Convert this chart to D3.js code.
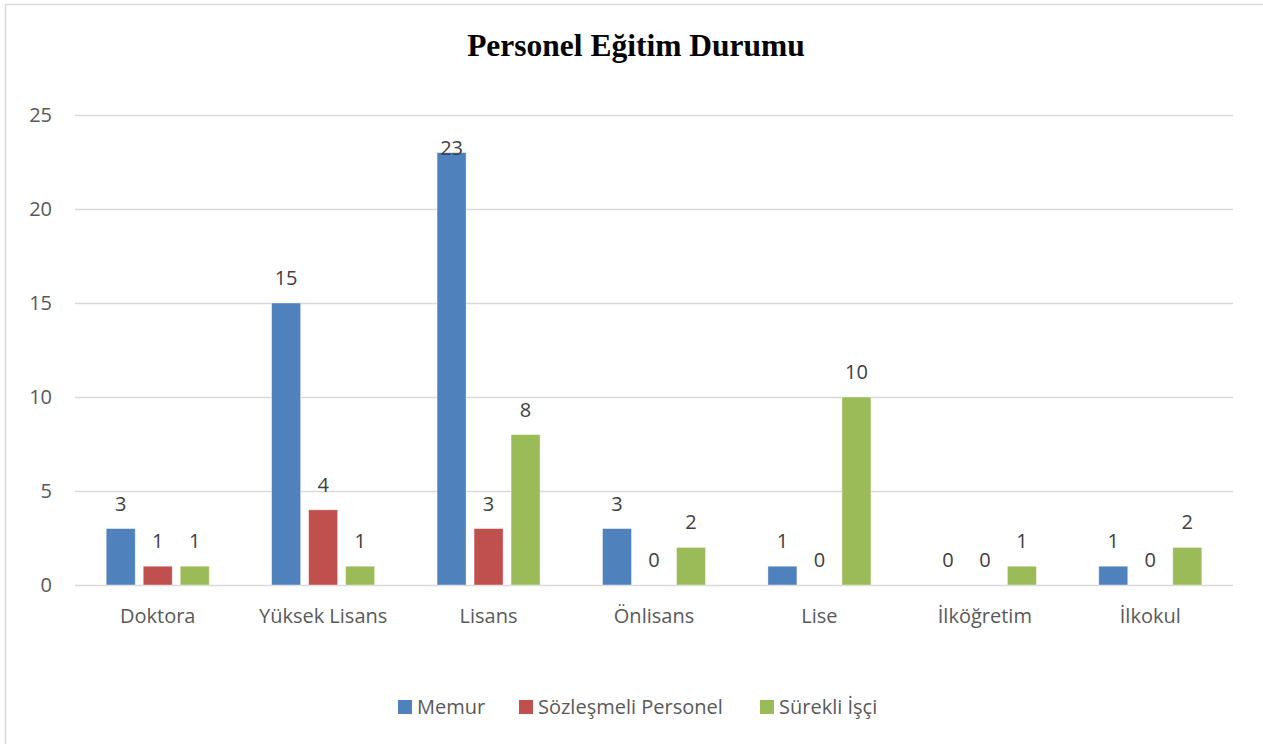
<!DOCTYPE html>
<html>
<head>
<meta charset="utf-8">
<script src="https://cdn.jsdelivr.net/npm/d3@7"></script>
<style>
  body { margin: 0; background: #fff; }
  text { font-family: "Open Sans", "Noto Sans", sans-serif; fill: #595959; }
</style>
</head>
<body>
<div class="visualisation"></div>
<script>
// data
const categories = ["Doktora", "Yüksek Lisans", "Lisans", "Önlisans", "Lise", "İlköğretim", "İlkokul"];
const seriesNames = ["Memur", "Sözleşmeli Personel", "Sürekli İşçi"];
const memur = [3, 15, 23, 3, 1, 0, 1];
const sozlesmeli = [1, 4, 3, 0, 0, 0, 0];
const surekli = [1, 1, 8, 2, 10, 1, 2];
const yTicks = [0, 5, 10, 15, 20, 25];
const colors = ["#4f81bd", "#c0504d", "#9bbb59"];

const wdth = 1263, hght = 744;
const plot = {left: 75, right: 1233, top: 115, bottom: 585};

const svg = d3.select(".visualisation")
  .append("svg")
  .attr("width", wdth)
  .attr("height", hght);

// chart frame (cut off on right/bottom like the reference)
svg.append("rect")
  .attr("x", 5.5).attr("y", 4.5)
  .attr("width", 1300).attr("height", 800)
  .attr("fill", "none")
  .attr("stroke", "#d9d9d9")
  .attr("stroke-width", 1.5);

svg.append("text")
  .attr("x", 636).attr("y", 56)
  .attr("text-anchor", "middle")
  .style("font-family", "'Liberation Serif', 'Times New Roman', serif")
  .style("font-weight", "bold")
  .style("font-size", "31.5px")
  .style("fill", "#000")
  .text("Personel Eğitim Durumu");

const x0 = d3.scaleBand()
  .domain(categories)
  .range([plot.left, plot.right]);

const x1 = d3.scaleBand()
  .domain(seriesNames)
  .range([0, x0.bandwidth()])
  .paddingInner(0.216)
  .paddingOuter(0.843);

const y = d3.scaleLinear()
  .domain([0, 25])
  .range([plot.bottom, plot.top]);

// gridlines
svg.append("g")
  .selectAll("line")
  .data(yTicks)
  .join("line")
  .attr("x1", plot.left).attr("x2", plot.right)
  .attr("y1", d => y(d) + 0.5).attr("y2", d => y(d) + 0.5)
  .attr("stroke", "#d9d9d9")
  .attr("stroke-width", 1.3);

// y tick labels
svg.append("g")
  .selectAll("text")
  .data(yTicks)
  .join("text")
  .attr("x", 52)
  .attr("y", d => y(d))
  .attr("dy", "0.35em")
  .attr("text-anchor", "end")
  .style("font-size", "20px")
  .text(d => d);

// x category labels
svg.append("g")
  .selectAll("text")
  .data(categories)
  .join("text")
  .attr("x", d => x0(d) + x0.bandwidth() / 2)
  .attr("y", 616)
  .attr("dy", "0.35em")
  .attr("text-anchor", "middle")
  .style("font-size", "20px")
  .text(d => d);

const series = [memur, sozlesmeli, surekli];
const rows = [];
series.forEach((vals, si) => {
  vals.forEach((v, ci) => {
    rows.push({cat: categories[ci], name: seriesNames[si], value: v, color: colors[si]});
  });
});

svg.append("g")
  .selectAll("rect")
  .data(rows)
  .join("rect")
  .attr("x", d => x0(d.cat) + x1(d.name))
  .attr("y", d => y(d.value))
  .attr("width", x1.bandwidth())
  .attr("height", d => y(0) - y(d.value))
  .attr("fill", d => d.color)
  .attr("stroke", "#fff")
  .attr("stroke-opacity", 0.5)
  .attr("stroke-width", 0.8);

// data labels
svg.append("g")
  .selectAll("text")
  .data(rows)
  .join("text")
  .attr("x", d => x0(d.cat) + x1(d.name) + x1.bandwidth() / 2)
  .attr("y", d => Math.max(y(d.value) - 25, 148))
  .attr("dy", "0.35em")
  .attr("text-anchor", "middle")
  .style("font-size", "20px")
  .style("fill", "#404040")
  .text(d => d.value);

// legend
const legendX = [398, 519, 760];
const legend = svg.append("g")
  .selectAll("g")
  .data(seriesNames)
  .join("g")
  .attr("transform", (d, i) => `translate(${legendX[i]},707)`);
legend.append("rect")
  .attr("x", 0).attr("y", -7)
  .attr("width", 14).attr("height", 14)
  .attr("fill", (d, i) => colors[i]);
legend.append("text")
  .attr("x", 19).attr("y", 0)
  .attr("dy", "0.35em")
  .style("font-size", "20px")
  .text(d => d);
</script>
</body>
</html>
